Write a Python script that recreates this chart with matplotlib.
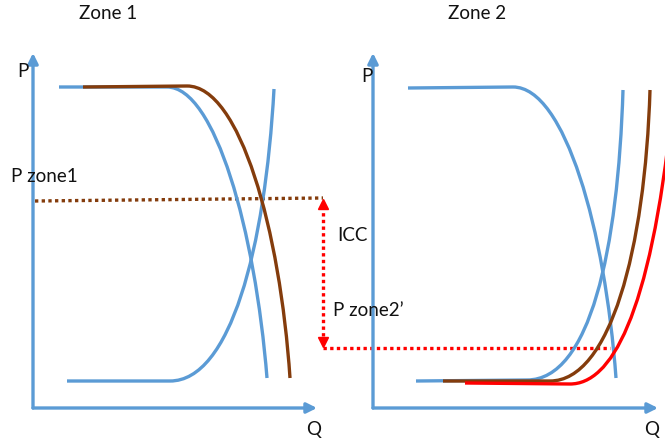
import matplotlib
matplotlib.use("Agg")
import matplotlib.pyplot as plt
from matplotlib.path import Path
from matplotlib.patches import PathPatch

BLUE, BROWN, RED, INK = "#5B9BD5", "#843C0C", "#FF0000", "#111111"

# diagram drawn in pixel space of the original slide (y grows downward)
# curve: start, end of the flat part, two bezier controls, end
demand_z1 = [(59, 87), (167, 87), (215, 87), (255, 230), (267, 378)]
demand_z1_shift = [(83, 87), (187, 86), (240, 86), (280, 230), (290, 378)]
supply_z1 = [(67, 381), (170, 381), (230, 381), (265, 250), (274, 89)]
demand_z2 = [(408, 88), (513, 87), (565, 87), (605, 230), (616, 378)]
supply_z2 = [(416, 381), (527, 380), (590, 380), (618, 250), (623, 90)]
supply_z2_shift = [(443, 381), (550, 381), (610, 381), (645, 250), (650, 90)]
supply_z2_icc = [(465, 383), (570, 384), (610, 384), (650, 320), (672, 110)]

# axes: origin and arrow tips
origins = [(33, 408), (373, 408)]
x_tips = [317, 658]
y_tips = [53, 53]

# price levels
p_zone1 = [(35, 201), (323, 198)]
p_zone2 = [(323, 348), (610, 348)]
icc_x = 323

labels = [
    ("Zone 1", 108, 13, "center"),
    ("Zone 2", 477, 13, "center"),
    ("P", 23, 71, "center"),
    ("P", 367, 76, "center"),
    ("Q", 314, 430, "center"),
    ("Q", 652, 430, "center"),
    ("P zone1", 11, 177, "left"),
    ("ICC", 337, 235, "left"),
    ("P zone2\u2019", 333, 310, "left"),
]

plt.rcParams["font.family"] = ["Lato", "DejaVu Sans"]

fig = plt.figure(figsize=(6.65, 4.43), dpi=100)
ax = fig.add_axes([0, 0, 1, 1])
ax.set_xlim(0, 665)
ax.set_ylim(443, 0)
ax.axis("off")


def curve(pts, color):
    codes = [Path.MOVETO, Path.LINETO, Path.CURVE4, Path.CURVE4, Path.CURVE4]
    ax.add_patch(PathPatch(Path(pts, codes), fc="none", ec=color,
                           lw=2.4, capstyle="butt", zorder=3))


for (ox, oy), xt, yt in zip(origins, x_tips, y_tips):
    for tip in ((xt, oy), (ox, yt)):
        ax.annotate("", xy=tip, xytext=(ox, oy),
                    arrowprops=dict(arrowstyle="-|>,head_length=0.6,head_width=0.3",
                                    color=BLUE, lw=2.4, shrinkA=0, shrinkB=0))

curve(demand_z1, BLUE)
curve(supply_z1, BLUE)
curve(demand_z1_shift, BROWN)
curve(demand_z2, BLUE)
curve(supply_z2, BLUE)
curve(supply_z2_shift, BROWN)
curve(supply_z2_icc, RED)

ax.plot(*zip(*p_zone1), color=BROWN, lw=2.4, ls=(0, (1, 1)), zorder=2)
ax.plot(*zip(*p_zone2), color=RED, lw=2.4, ls=(0, (1, 1)), zorder=2)
top, bottom = p_zone1[1][1], p_zone2[0][1]
ax.plot([icc_x, icc_x], [top + 8, bottom - 8], color=RED, lw=2.4,
        ls=(0, (1, 1)), zorder=2)
ax.plot([icc_x], [top + 6], marker="^", color=RED, ms=7, zorder=4)
ax.plot([icc_x], [bottom - 6], marker="v", color=RED, ms=7, zorder=4)

for text, x, y, ha in labels:
    ax.text(x, y, text, ha=ha, va="center", fontsize=13.5, color=INK)

fig.savefig("out.png", dpi=100)
